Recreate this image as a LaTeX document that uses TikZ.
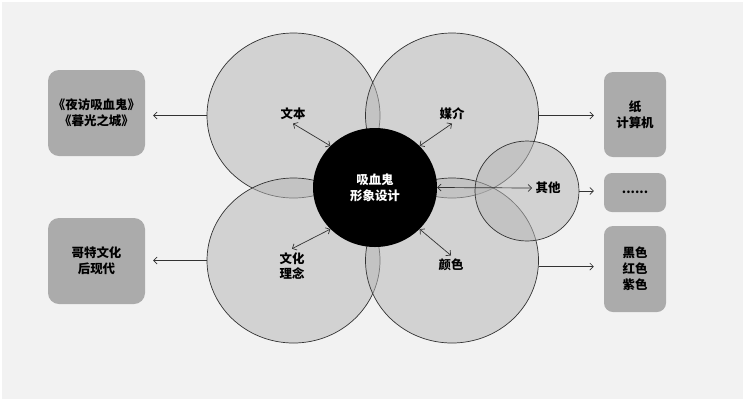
\documentclass[tikz,border=0pt]{standalone}
\usepackage{fontspec}
\setmainfont{Noto Sans CJK SC}
\usetikzlibrary{arrows.meta,shapes.geometric}
\definecolor{vppaper}{HTML}{F2F2F2}
\definecolor{vpring}{HTML}{B6B6B6}
\definecolor{vpbox}{HTML}{ABABAB}
\definecolor{vpline}{HTML}{333333}
\begin{document}
\begin{tikzpicture}[
            x=1bp, y=-1bp,
            font=\fontsize{12.5}{16}\selectfont\bfseries,
            >={Straight Barb[length=3.5bp,width=7bp]},
            vp ring/.style  ={draw=vpline, line width=0.7bp, fill=vpring, fill opacity=0.52,
                              shape=ellipse, minimum width=173bp, minimum height=165bp, inner sep=0pt},
            vp hub/.style   ={fill=black, shape=ellipse, minimum width=124bp, minimum height=119bp,
                              inner sep=0pt, text=white, align=center},
            vp box/.style   ={fill=vpbox, rounded corners=11bp, align=center, inner sep=0pt},
            vp label/.style ={align=center},
            vp arrow/.style ={->, draw=vpline, line width=0.7bp},
            vp link/.style  ={<->, draw=vpline, line width=0.7bp}
        ]
        %% --- paper -------------------------------------------------------------
        \fill[white] (0,0) rectangle (745,401);
        \fill[vppaper] (2,2) rectangle (743,399);
        \useasboundingbox (0,0) rectangle (745,401);
        %% --- the four big rings and the small one ------------------------------
        \foreach \nm/\cx/\cy in {wenben/293.5/115.5, meijie/452/115.5, wenhua/293.5/260.5, yanse/452/260.5} {
                \node[vp ring] (\nm C) at (\cx,\cy) {};
            }
        \node[vp ring, minimum width=104bp, minimum height=100bp] (otherC) at (527,191) {};
        \node[vp hub] (hub) at (375,187.5) {吸血鬼\\形象设计};
        %% --- ring labels -------------------------------------------------------
        \node[vp label] (wenbenL) at (293,114) {文本};
        \node[vp label] (meijieL) at (452,114) {媒介};
        \node[vp label] (wenhuaL) at (292,266) {文化\\理念};
        \node[vp label] (yanseL)  at (451,265) {颜色};
        \node[vp label] (otherL)  at (548,188) {其他};
        \draw[vp link] (hub.137)  -- (wenbenL.south);
        \draw[vp link] (hub.43)   -- (meijieL.south);
        \draw[vp link] (hub.-137) -- (wenhuaL.north);
        \draw[vp link] (hub.-43)  -- (yanseL.north);
        \draw[vp link] (hub.east) -- (otherL.west);
        %% --- side boxes --------------------------------------------------------
        \node[vp box, minimum width=97bp, minimum height=86bp] (bookB)  at (96.5,113) {《夜访吸血鬼》\\《暮光之城》};
        \node[vp box, minimum width=97bp, minimum height=86bp] (ideaB)  at (96.5,261) {哥特文化\\后现代};
        \node[vp box, rounded corners=9bp, minimum width=62bp, minimum height=85bp] (mediaB) at (635,114.5) {纸\\计算机};
        \node[vp box, rounded corners=8bp, minimum width=62bp, minimum height=39bp] (etcB)   at (635,192.5) {......};
        \node[vp box, rounded corners=9bp, minimum width=62bp, minimum height=86bp] (colorB) at (635,269) {黑色\\红色\\紫色};
        \draw[vp arrow, shorten >=8bp]  (wenbenC.west) -- (wenbenC.west -| bookB.east);
        \draw[vp arrow, shorten >=8bp]  (wenhuaC.west) -- (wenhuaC.west -| ideaB.east);
        \draw[vp arrow, shorten >=10bp] (meijieC.east) -- (meijieC.east -| mediaB.west);
        \draw[vp arrow, shorten >=10bp] (otherC.east)  -- (otherC.east -| etcB.west);
        \draw[vp arrow, shorten >=10bp] (yanseC.-4)    -- (yanseC.-4 -| colorB.west);
    \end{tikzpicture}
\end{document}
